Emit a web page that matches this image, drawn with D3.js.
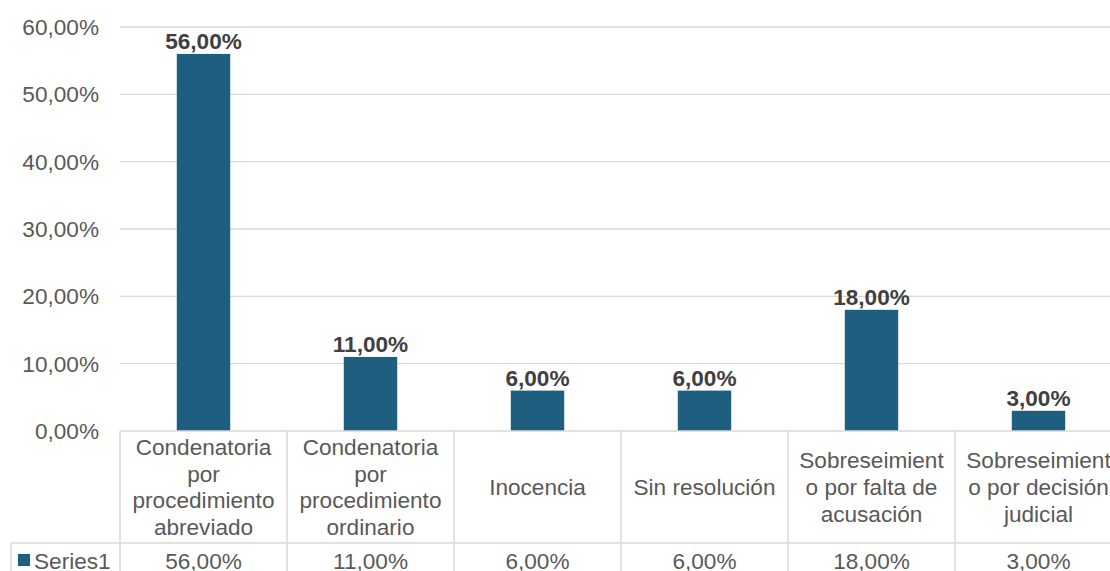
<!DOCTYPE html>
<html>
<head>
<meta charset="utf-8">
<script src="https://d3js.org/d3.v7.min.js"></script>
<style>
  body { margin: 0; background: #fff; }
  text { font-family: "Liberation Sans", Arial, sans-serif; }
</style>
</head>
<body>
<script>
// datos
const categorias = [
    ["Condenatoria", "por", "procedimiento", "abreviado"],
    ["Condenatoria", "por", "procedimiento", "ordinario"],
    ["Inocencia"],
    ["Sin resolución"],
    ["Sobreseimient", "o por falta de", "acusación"],
    ["Sobreseimient", "o por decisión", "judicial"]
];
const valores = [56, 11, 6, 6, 18, 3];
const serie = "Series1";
const ticksY = [0, 10, 20, 30, 40, 50, 60];

const width = 1110;
const height = 571;
const plotLeft = 120;
const plotRight = 1122;
const plotTop = 27;
const base = 431;
const filaCat = 543;
const fs = 22.6;

const fmt = v => d3.format(".2f")(v).replace(".", ",") + "%";

let svg = d3.select("body")
    .append("svg")
    .attr("width", width)
    .attr("height", height);

let ids = categorias.map((c, i) => i);

let scaleX = d3.scaleBand()
    .domain(ids)
    .range([plotLeft, plotRight])
    .paddingInner(0.68)
    .paddingOuter(0.34);
let scaleY = d3.scaleLinear()
    .domain([0, 60])
    .range([base, plotTop]);

// rejilla
svg.append("g")
    .selectAll("line")
    .data(ticksY.slice(1))
    .join("line")
    .attr("x1", plotLeft)
    .attr("x2", width)
    .attr("y1", d => scaleY(d))
    .attr("y2", d => scaleY(d))
    .attr("stroke", "#d9d9d9")
    .attr("stroke-width", 1.3);

// etiquetas eje Y
svg.append("g")
    .selectAll("text")
    .data(ticksY)
    .join("text")
    .attr("x", 99)
    .attr("y", d => scaleY(d) + 8)
    .attr("text-anchor", "end")
    .attr("font-size", fs)
    .attr("fill", "#595959")
    .text(d => fmt(d));

// barras
svg.append("g")
    .selectAll("rect")
    .data(valores)
    .join("rect")
    .attr("x", (d, i) => scaleX(i))
    .attr("y", d => scaleY(d))
    .attr("width", scaleX.bandwidth())
    .attr("height", d => base - scaleY(d))
    .attr("fill", "#1e5f7f");

// etiquetas de datos
svg.append("g")
    .selectAll("text")
    .data(valores)
    .join("text")
    .attr("x", (d, i) => scaleX(i) + scaleX.bandwidth() / 2)
    .attr("y", d => scaleY(d) - 5)
    .attr("text-anchor", "middle")
    .attr("font-size", fs)
    .attr("font-weight", "bold")
    .attr("fill", "#404040")
    .text(d => fmt(d));

// tabla de datos
const step = scaleX.step();
const borde = i => scaleX(i) - scaleX.paddingInner() * step / 2;
let tabla = svg.append("g")
    .attr("stroke", "#d9d9d9")
    .attr("stroke-width", 1.5);

tabla.append("line")
    .attr("x1", plotLeft).attr("x2", width)
    .attr("y1", base).attr("y2", base);
tabla.append("line")
    .attr("x1", 11).attr("x2", width)
    .attr("y1", filaCat).attr("y2", filaCat);
tabla.append("line")
    .attr("x1", 11).attr("x2", 11)
    .attr("y1", filaCat).attr("y2", height);
tabla.selectAll(".v")
    .data(ids.concat([ids.length]))
    .join("line")
    .attr("x1", i => i < ids.length ? borde(i) : borde(i - 1) + step)
    .attr("x2", i => i < ids.length ? borde(i) : borde(i - 1) + step)
    .attr("y1", base)
    .attr("y2", height);

// categorías
let cat = svg.append("g")
    .selectAll("text")
    .data(categorias)
    .join("text")
    .attr("text-anchor", "middle")
    .attr("font-size", fs)
    .attr("fill", "#595959");
const lh = 26.7;
cat.each(function (lineas, i) {
    let y0 = (base + filaCat) / 2 + 8 - (lineas.length - 1) * lh / 2;
    d3.select(this).selectAll("tspan")
        .data(lineas)
        .join("tspan")
        .attr("x", scaleX(i) + scaleX.bandwidth() / 2)
        .attr("y", (d, j) => y0 + j * lh)
        .text(d => d);
});

// fila de valores
svg.append("g")
    .selectAll("text")
    .data(valores)
    .join("text")
    .attr("x", (d, i) => scaleX(i) + scaleX.bandwidth() / 2)
    .attr("y", 569)
    .attr("text-anchor", "middle")
    .attr("font-size", fs)
    .attr("fill", "#595959")
    .text(d => fmt(d));

svg.append("rect")
    .attr("x", 18)
    .attr("y", 554)
    .attr("width", 12)
    .attr("height", 12)
    .attr("fill", "#1e5f7f");
svg.append("text")
    .attr("x", 34)
    .attr("y", 569)
    .attr("font-size", fs)
    .attr("fill", "#595959")
    .text(serie);
</script>
</body>
</html>
